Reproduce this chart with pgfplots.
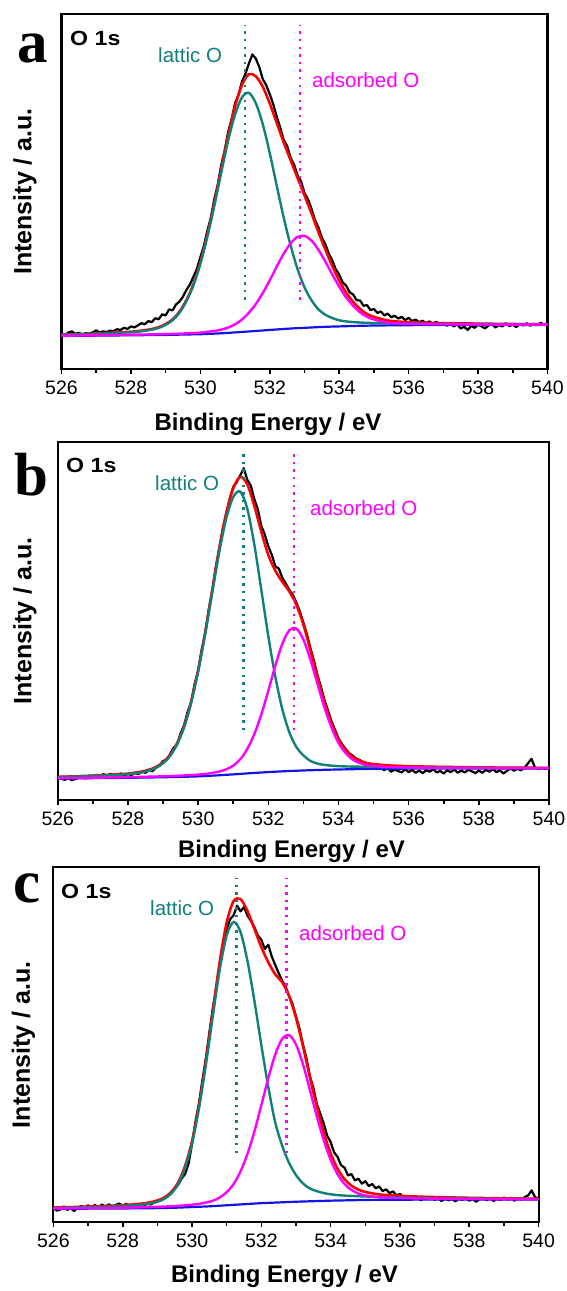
\documentclass[border=0pt]{standalone}
\usepackage{fontspec}
\setmainfont{Liberation Sans}
\newfontfamily\serifbold{Liberation Serif}
\usepackage{graphicx}
\usepackage{pgfplots}
\usepackage{pgfplotstable}
\pgfplotsset{compat=1.18}
\definecolor{cteal}{RGB}{16,128,122}
\definecolor{cmag}{RGB}{255,0,255}
\definecolor{cblue}{RGB}{20,20,230}
\definecolor{cred}{RGB}{255,0,0}

\pgfplotstableread{
x bg teal mag red
526.0 9.30 9.66 9.38 9.74
526.5 9.35 9.76 9.44 9.85
527.0 9.40 9.91 9.50 10.01
527.4 9.44 10.06 9.56 10.18
527.8 9.48 10.24 9.62 10.38
528.0 9.50 10.34 9.66 10.50
528.2 9.52 10.50 9.69 10.67
528.4 9.54 10.75 9.72 10.93
528.6 9.56 11.07 9.75 11.26
528.8 9.58 11.57 9.79 11.78
529.0 9.60 12.43 9.83 12.66
529.2 9.64 13.74 9.89 13.99
529.4 9.68 15.88 9.96 16.16
529.6 9.72 19.12 10.04 19.44
529.8 9.76 23.56 10.12 23.92
530.0 9.80 29.60 10.24 30.04
530.2 9.88 37.18 10.50 37.80
530.4 9.96 45.86 10.69 46.59
530.6 10.06 55.26 11.09 56.29
530.8 10.18 64.28 11.68 65.78
531.0 10.30 71.70 12.60 74.00
531.2 10.44 76.54 13.94 80.04
531.4 10.58 77.78 15.88 83.08
531.6 10.72 74.82 18.32 82.42
531.8 10.86 68.86 21.46 79.46
532.0 11.00 60.80 25.00 74.80
532.2 11.14 51.64 28.84 69.34
532.4 11.28 42.68 32.48 63.88
532.6 11.40 34.80 35.40 58.80
532.8 11.52 28.12 37.22 53.82
533.0 11.60 23.00 37.50 48.90
533.2 11.70 19.40 36.20 43.90
533.4 11.80 16.80 33.60 38.60
533.6 11.88 15.28 30.28 33.68
533.8 11.95 14.35 26.65 29.05
534.0 12.00 13.72 23.20 24.92
534.2 12.06 13.41 20.16 21.51
534.4 12.12 13.22 17.82 18.92
534.6 12.17 13.10 15.97 16.90
534.8 12.21 13.00 14.71 15.50
535.0 12.25 12.96 13.95 14.66
535.4 12.29 12.88 13.07 13.66
535.8 12.33 12.82 12.80 13.29
536.2 12.36 12.77 12.69 13.10
536.6 12.38 12.75 12.64 13.01
537.0 12.40 12.71 12.61 12.92
538.0 12.40 12.64 12.55 12.79
539.0 12.40 12.57 12.50 12.67
540.0 12.40 12.53 12.48 12.61
}\fitA

\pgfplotstableread{
x y
526.0 9.9
526.1 9.5
526.2 10.3
526.3 10.6
526.4 9.9
526.5 10.2
526.6 9.7
526.7 10.1
526.8 10.0
526.9 10.3
527.0 10.9
527.1 10.3
527.2 10.6
527.3 10.4
527.4 10.8
527.5 10.7
527.6 11.2
527.7 11.0
527.8 11.6
527.9 11.3
528.0 12.0
528.1 11.7
528.2 12.3
528.3 12.9
528.4 12.6
528.5 13.5
528.6 13.2
528.7 14.3
528.8 14.0
528.9 15.4
529.0 15.1
529.1 16.8
529.2 16.5
529.3 18.2
529.4 19.0
529.5 20.4
529.6 22.3
529.7 23.8
529.8 26.0
529.9 28.2
530.0 31.5
530.1 34.6
530.2 38.9
530.3 42.5
530.4 47.8
530.5 51.9
530.6 57.4
530.7 61.5
530.8 66.8
530.9 70.3
531.0 74.9
531.1 77.3
531.2 81.0
531.3 83.2
531.4 86.1
531.5 88.6
531.6 87.4
531.7 85.0
531.8 81.6
531.9 79.9
532.0 77.4
532.1 74.6
532.2 71.1
532.3 68.0
532.4 64.6
532.5 62.8
532.6 59.5
532.7 57.6
532.8 54.6
532.9 52.9
533.0 49.6
533.1 47.8
533.2 45.2
533.3 42.0
533.4 39.9
533.5 37.0
533.6 35.2
533.7 32.5
533.8 30.6
533.9 28.1
534.0 26.6
534.1 24.4
534.2 23.5
534.3 21.6
534.4 21.0
534.5 19.4
534.6 19.3
534.7 17.8
534.8 18.0
534.9 16.6
535.0 16.9
535.1 15.8
535.2 16.2
535.3 15.1
535.4 15.6
535.5 14.6
535.6 15.0
535.7 14.2
535.8 14.7
535.9 13.8
536.0 14.4
536.1 13.5
536.2 13.9
536.3 13.2
536.4 13.6
536.5 12.9
536.6 13.4
536.7 12.7
536.8 13.3
536.9 12.5
537.0 13.0
537.1 12.2
537.2 12.8
537.3 12.0
537.4 12.6
537.5 11.4
537.6 11.9
537.7 11.0
537.8 12.1
537.9 11.6
538.0 12.5
538.1 12.0
538.2 11.4
538.3 12.3
538.4 12.6
538.5 11.7
538.6 12.4
538.7 12.0
538.8 12.9
538.9 12.1
539.0 12.5
539.1 11.8
539.2 12.6
539.3 12.3
539.4 12.9
539.5 12.2
539.6 12.7
539.7 12.4
539.8 13.0
539.9 12.5
540.0 12.6
}\rawA

\pgfplotstableread{
x bg teal mag red
526.0 6.00 6.41 6.08 6.49
526.5 6.05 6.52 6.13 6.60
527.0 6.10 6.70 6.22 6.82
527.4 6.14 6.87 6.28 7.01
527.8 6.18 7.08 6.34 7.24
528.0 6.20 7.20 6.37 7.37
528.2 6.23 7.45 6.41 7.63
528.4 6.26 7.76 6.46 7.96
528.6 6.29 8.23 6.51 8.45
528.8 6.32 8.97 6.56 9.21
529.0 6.35 10.25 6.62 10.52
529.2 6.39 12.29 6.69 12.59
529.4 6.43 15.53 6.76 15.86
529.6 6.48 20.28 6.86 20.66
529.8 6.54 27.04 6.97 27.47
530.0 6.60 35.80 7.09 36.29
530.2 6.70 46.20 7.28 46.78
530.4 6.80 57.70 7.56 58.46
530.6 6.91 69.11 7.93 70.13
530.8 7.03 78.53 8.55 80.05
531.0 7.15 84.55 9.59 86.99
531.2 7.29 86.09 11.37 90.17
531.4 7.43 81.33 14.23 88.13
531.6 7.56 71.36 18.36 82.16
531.8 7.68 58.68 23.88 74.88
532.0 7.80 45.70 30.50 68.40
532.2 7.90 34.40 37.50 64.00
532.4 8.00 25.30 43.60 60.90
532.6 8.09 18.89 47.39 58.19
532.8 8.17 14.77 47.87 54.47
533.0 8.25 12.45 44.75 48.95
533.2 8.31 10.91 39.21 41.81
533.4 8.37 10.17 32.47 34.27
533.6 8.43 9.81 25.83 27.21
533.8 8.48 9.59 20.28 21.39
534.0 8.52 9.45 15.92 16.85
534.2 8.56 9.37 13.16 13.97
534.4 8.60 9.33 11.30 12.03
534.6 8.64 9.30 10.34 11.00
534.8 8.67 9.25 9.75 10.33
535.0 8.70 9.23 9.50 10.03
535.4 8.73 9.17 9.23 9.67
535.8 8.75 9.11 9.13 9.49
536.2 8.77 9.09 9.07 9.39
536.6 8.78 9.06 9.02 9.30
537.0 8.79 9.03 9.00 9.24
538.0 8.80 8.96 8.94 9.10
539.0 8.80 8.93 8.89 9.02
540.0 8.80 8.90 8.87 8.97
}\fitB

\pgfplotstableread{
x y
526.0 6.3
526.1 6.0
526.2 5.6
526.3 6.1
526.4 5.5
526.5 5.9
526.6 6.2
526.7 6.4
526.8 6.0
526.9 6.8
527.0 6.5
527.1 7.0
527.2 6.7
527.3 7.2
527.4 6.8
527.5 7.3
527.6 6.9
527.7 7.1
527.8 7.4
527.9 6.9
528.0 7.2
528.1 7.0
528.2 7.5
528.3 7.3
528.4 7.9
528.5 7.6
528.6 8.3
528.7 8.1
528.8 9.0
528.9 9.6
529.0 10.9
529.1 11.2
529.2 12.8
529.3 14.6
529.4 15.5
529.5 18.6
529.6 20.9
529.7 24.6
529.8 27.3
529.9 32.4
530.0 36.0
530.1 42.0
530.2 46.4
530.3 53.1
530.4 58.2
530.5 64.9
530.6 70.0
530.7 75.6
530.8 79.8
530.9 84.0
531.0 87.4
531.1 88.7
531.2 90.6
531.3 92.6
531.4 89.4
531.5 87.8
531.6 84.0
531.7 81.2
531.8 76.5
531.9 74.1
532.0 70.8
532.1 68.4
532.2 65.2
532.3 64.6
532.4 62.0
532.5 60.4
532.6 58.6
532.7 57.2
532.8 55.1
532.9 52.6
533.0 49.5
533.1 46.3
533.2 42.4
533.3 38.9
533.4 34.9
533.5 31.6
533.6 27.9
533.7 25.0
533.8 22.0
533.9 19.6
534.0 17.2
534.1 15.6
534.2 14.3
534.3 13.1
534.4 12.4
534.5 11.6
534.6 11.2
534.7 10.5
534.8 10.3
534.9 9.9
535.0 9.4
535.1 8.6
535.2 9.1
535.3 8.3
535.4 8.9
535.5 7.9
535.6 8.5
535.7 8.1
535.8 7.7
535.9 8.6
536.0 7.8
536.1 8.4
536.2 7.6
536.3 8.2
536.4 7.5
536.5 8.3
536.6 7.9
536.7 8.6
536.8 7.7
536.9 8.1
537.0 7.4
537.1 8.3
537.2 7.8
537.3 8.5
537.4 7.6
537.5 8.2
537.6 7.7
537.7 8.4
537.8 8.0
537.9 7.5
538.0 8.2
538.1 7.6
538.2 8.4
538.3 7.9
538.4 8.6
538.5 7.8
538.6 8.3
538.7 7.4
538.8 8.1
538.9 8.8
539.0 8.2
539.1 8.7
539.2 8.3
539.3 9.0
539.4 10.2
539.5 11.5
539.6 9.1
539.7 8.6
539.8 9.0
539.9 8.7
540.0 8.9
}\rawB

\pgfplotstableread{
x bg teal mag red
526.0 3.80 4.09 3.91 4.20
526.5 3.82 4.15 3.95 4.28
527.0 3.85 4.27 4.01 4.43
527.4 3.87 4.37 4.05 4.55
527.8 3.89 4.51 4.10 4.72
528.0 3.90 4.62 4.12 4.84
528.2 3.92 4.72 4.16 4.96
528.4 3.94 4.86 4.21 5.13
528.6 3.96 5.04 4.25 5.33
528.8 3.98 5.33 4.30 5.65
529.0 4.00 5.79 4.36 6.15
529.2 4.04 6.59 4.44 6.99
529.4 4.08 8.08 4.52 8.52
529.6 4.14 10.74 4.63 11.23
529.8 4.22 15.32 4.79 15.89
530.0 4.30 22.20 4.96 22.86
530.2 4.38 32.08 5.20 32.90
530.4 4.46 44.36 5.56 45.46
530.6 4.56 58.06 6.07 59.57
530.8 4.68 71.18 6.99 73.49
531.0 4.80 80.80 8.47 84.47
531.2 4.92 84.62 10.78 90.48
531.4 5.04 81.74 14.34 91.04
531.6 5.16 73.56 19.26 87.66
531.8 5.28 62.38 25.58 82.68
532.0 5.40 49.90 33.00 77.50
532.2 5.48 38.18 40.58 73.28
532.4 5.56 28.16 47.26 69.86
532.6 5.64 21.64 51.64 67.64
532.8 5.72 16.72 52.72 63.72
533.0 5.80 13.30 50.10 57.60
533.2 5.86 10.96 44.56 49.66
533.4 5.92 9.52 37.32 40.92
533.6 5.98 8.78 29.88 32.68
533.8 6.04 8.24 23.14 25.34
534.0 6.10 7.90 17.60 19.40
534.2 6.14 7.67 13.54 15.07
534.4 6.18 7.52 10.78 12.12
534.6 6.22 7.43 9.12 10.33
534.8 6.26 7.36 8.10 9.20
535.0 6.30 7.28 7.57 8.55
535.4 6.33 7.12 7.06 7.85
535.8 6.36 7.06 6.89 7.59
536.2 6.38 6.95 6.80 7.37
536.6 6.39 6.89 6.72 7.22
537.0 6.40 6.83 6.68 7.11
538.0 6.40 6.71 6.59 6.90
539.0 6.40 6.62 6.53 6.75
540.0 6.40 6.57 6.49 6.66
}\fitC

\pgfplotstableread{
x y
526.0 4.0
526.1 3.3
526.2 3.6
526.3 4.5
526.4 3.5
526.5 3.9
526.6 3.2
526.7 4.1
526.8 4.6
526.9 4.0
527.0 4.8
527.1 4.3
527.2 4.9
527.3 4.1
527.4 5.0
527.5 4.4
527.6 5.1
527.7 4.3
527.8 4.9
527.9 5.3
528.0 4.6
528.1 5.2
528.2 4.5
528.3 5.0
528.4 4.3
528.5 4.9
528.6 4.6
528.7 5.2
528.8 5.0
528.9 5.5
529.0 5.9
529.1 6.2
529.2 6.9
529.3 7.4
529.4 8.6
529.5 9.5
529.6 10.6
529.7 12.3
529.8 13.6
529.9 16.5
530.0 22.0
530.1 28.4
530.2 33.5
530.3 40.1
530.4 46.2
530.5 53.4
530.6 60.3
530.7 66.0
530.8 72.6
530.9 77.5
531.0 82.6
531.1 85.4
531.2 86.5
531.3 89.2
531.4 87.6
531.5 88.8
531.6 86.4
531.7 84.9
531.8 83.1
531.9 80.8
532.0 79.6
532.1 77.0
532.2 78.2
532.3 74.9
532.4 72.5
532.5 70.2
532.6 68.1
532.7 66.4
532.8 63.8
532.9 61.5
533.0 58.0
533.1 54.6
533.2 50.1
533.3 46.3
533.4 41.2
533.5 37.9
533.6 33.4
533.7 30.6
533.8 27.8
533.9 24.4
534.0 22.6
534.1 19.7
534.2 18.4
534.3 16.1
534.4 15.4
534.5 13.2
534.6 13.6
534.7 11.8
534.8 12.3
534.9 10.9
535.0 11.6
535.1 10.2
535.2 10.8
535.3 9.6
535.4 10.1
535.5 8.8
535.6 9.3
535.7 8.2
535.8 8.7
535.9 7.6
536.0 8.0
536.1 7.1
536.2 6.4
536.3 7.2
536.4 6.6
536.5 7.0
536.6 6.2
536.7 6.9
536.8 6.5
536.9 7.1
537.0 6.3
537.1 6.8
537.2 6.0
537.3 6.7
537.4 6.2
537.5 6.6
537.6 5.9
537.7 6.7
537.8 6.3
537.9 6.9
538.0 6.1
538.1 6.6
538.2 5.8
538.3 6.5
538.4 6.9
538.5 6.2
538.6 6.8
538.7 6.0
538.8 6.6
538.9 6.3
539.0 7.0
539.1 6.4
539.2 6.9
539.3 6.1
539.4 6.7
539.5 6.4
539.6 7.1
539.7 7.6
539.8 9.0
539.9 7.0
540.0 6.8
}\rawC

\pgfplotsset{
  xps/.style={
    scale only axis,
    xmin=526, xmax=540, ymin=0, ymax=100,
    xtick={526,528,530,532,534,536,538,540},
    minor xtick={527,529,531,533,535,537,539},
    ytick=\empty,
    xtick pos=left, tick align=outside,
    major tick length=5pt, minor tick length=3.5pt,
    tick style={black, line width=1.6pt},
    minor tick style={black, line width=1.6pt},
    axis line style={line width=2.1pt},
    /pgf/number format/assume math mode=true,
    /pgf/number format/1000 sep={},
    xticklabel style={font=\fontsize{19.5}{22}\selectfont, yshift=-3.5pt},
    clip=false,
  },
  rawline/.style={black, line width=2.2pt, line join=round},
  redline/.style={cred, line width=2.6pt, smooth},
  tealline/.style={cteal, line width=2.4pt, smooth},
  magline/.style={cmag, line width=2.4pt, smooth},
  blueline/.style={cblue, line width=2.2pt, smooth},
  tdot/.style={cteal, line width=2.6pt, dash pattern=on 2.4pt off 5.2pt},
  mdot/.style={cmag, line width=2.6pt, dash pattern=on 2.4pt off 5.2pt},
}

\newcommand{\labfont}{\fontsize{24}{28}\selectfont\bfseries}
\newcommand{\ylabfont}{\fontsize{25}{28}\selectfont\bfseries}
\newcommand{\ofont}{\fontsize{20.5}{24}\selectfont\bfseries}
\newcommand{\pkfont}{\fontsize{20.5}{24}\selectfont}
\newcommand{\letfont}{\serifbold\bfseries\fontsize{61}{63}\selectfont}

\begin{document}
\begin{tikzpicture}
\useasboundingbox (0,0) rectangle (566pt,-1291pt);

% ---------- panel a ----------
\begin{axis}[xps, width=486pt, height=355pt, at={(61.5pt,-369pt)}, anchor=south west]
\addplot[rawline] table[x=x,y=y] {\rawA};
\addplot[blueline] table[x=x,y=bg] {\fitA};
\addplot[redline] table[x=x,y=red] {\fitA};
\addplot[tealline] table[x=x,y=teal] {\fitA};
\addplot[magline] table[x=x,y=mag] {\fitA};
\addplot[tdot] coordinates {(531.29,19.5) (531.29,97)};
\addplot[mdot] coordinates {(532.87,19.5) (532.87,97)};
\end{axis}

% ---------- panel b ----------
\begin{axis}[xps, width=491.2pt, height=358.3pt, at={(57.8pt,-800pt)}, anchor=south west]
\addplot[rawline] table[x=x,y=y] {\rawB};
\addplot[blueline] table[x=x,y=bg] {\fitB};
\addplot[redline] table[x=x,y=red] {\fitB};
\addplot[tealline] table[x=x,y=teal] {\fitB};
\addplot[magline] table[x=x,y=mag] {\fitB};
\addplot[tdot] coordinates {(531.29,19.5) (531.29,97)};
\addplot[mdot] coordinates {(532.73,19.5) (532.73,97)};
\end{axis}

% ---------- panel c ----------
\begin{axis}[xps, width=485.2pt, height=355pt, at={(53.4pt,-1222.3pt)}, anchor=south west]
\addplot[rawline] table[x=x,y=y] {\rawC};
\addplot[blueline] table[x=x,y=bg] {\fitC};
\addplot[redline] table[x=x,y=red] {\fitC};
\addplot[tealline] table[x=x,y=teal] {\fitC};
\addplot[magline] table[x=x,y=mag] {\fitC};
\addplot[tdot] coordinates {(531.29,19.5) (531.29,97)};
\addplot[mdot] coordinates {(532.73,19.5) (532.73,97)};
\end{axis}

% ---------- labels ----------
\node[font=\ylabfont, rotate=90] at (25pt,-191.5pt) {Intensity / a.u.};
\node[font=\ylabfont, rotate=90] at (25pt,-621pt) {Intensity / a.u.};
\node[font=\ylabfont, rotate=90] at (23.5pt,-1044.8pt) {Intensity / a.u.};
\node[font=\labfont] at (268pt,-424pt) {Binding Energy / eV};
\node[font=\labfont] at (291.5pt,-851pt) {Binding Energy / eV};
\node[font=\labfont] at (284.5pt,-1276pt) {Binding Energy / eV};

\node[font=\ofont, anchor=west, inner sep=0pt] at (70pt,-38pt) {\scalebox{1.13}[1]{O 1s}};
\node[font=\ofont, anchor=west, inner sep=0pt] at (66pt,-465pt) {\scalebox{1.13}[1]{O 1s}};
\node[font=\ofont, anchor=west, inner sep=0pt] at (61pt,-891pt) {\scalebox{1.13}[1]{O 1s}};

\node[font=\pkfont, text=cteal, anchor=west, inner sep=0pt] at (158pt,-55pt) {lattic O};
\node[font=\pkfont, text=cteal, anchor=west, inner sep=0pt] at (155pt,-482.7pt) {lattic O};
\node[font=\pkfont, text=cteal, anchor=west, inner sep=0pt] at (150pt,-908pt) {lattic O};
\node[font=\pkfont, text=cmag, anchor=west, inner sep=0pt] at (312pt,-80pt) {adsorbed O};
\node[font=\pkfont, text=cmag, anchor=west, inner sep=0pt] at (310pt,-508pt) {adsorbed O};
\node[font=\pkfont, text=cmag, anchor=west, inner sep=0pt] at (299pt,-933pt) {adsorbed O};

\node[font=\letfont, anchor=base, inner sep=0pt] at (33pt,-62pt) {a};
\node[font=\letfont, anchor=base, inner sep=0pt] at (31pt,-495pt) {b};
\node[font=\letfont, anchor=base, inner sep=0pt] at (27pt,-902pt) {c};
\end{tikzpicture}
\end{document}
